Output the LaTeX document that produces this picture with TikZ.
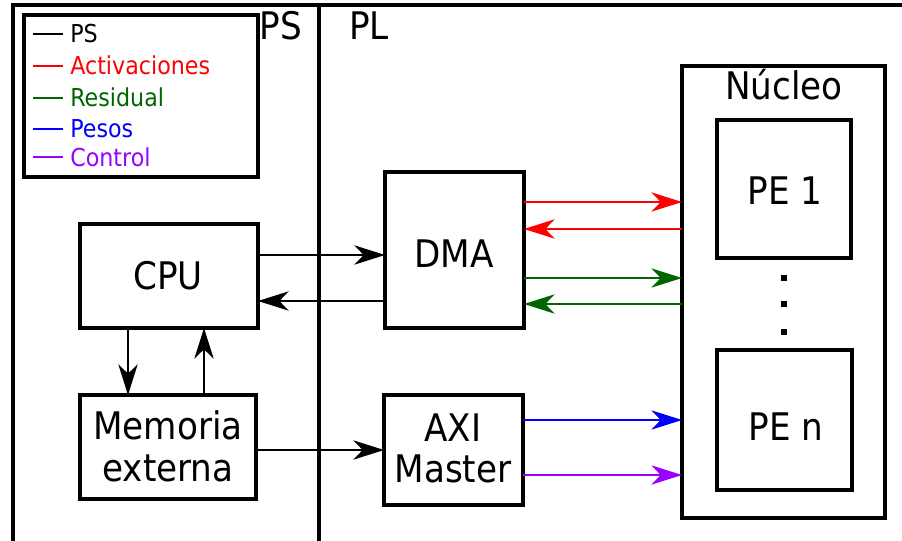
\documentclass[tikz,border=0pt]{standalone}
\usepackage{fontspec}
\setmainfont{DejaVu Sans}[FakeStretch=0.9]
\usetikzlibrary{arrows.meta,fit}
\definecolor{cred}{RGB}{255,0,0}
\definecolor{cgreen}{RGB}{0,102,0}
\definecolor{cblue}{RGB}{0,0,255}
\definecolor{cpurple}{RGB}{153,0,255}
\tikzset{
  thick frame/.style={line width=2.6pt},
  blockbox/.style={draw, line width=2.6pt, inner sep=0pt, outer sep=0pt},
  bigtext/.style={inner sep=0pt, anchor=base, align=center,
    font=\fontsize{28.5}{32}\selectfont},
  legtext/.style={inner sep=0pt, anchor=base west, font=\fontsize{18.5}{22}\selectfont},
  legline/.style={line width=1.1pt},
  conn/.style={line width=1.1pt, -{Stealth[length=23pt,width=14.5pt,inset=7pt]}},
  dotmark/.style={fill=black, rectangle, inner sep=0pt, minimum size=4.6pt},
}
\begin{document}
\begin{tikzpicture}[x=0.75pt,y=-0.75pt]
\useasboundingbox (0,0) rectangle (902,541);
% outer frame and divider
\draw[thick frame] (13,560) -- (13,5) -- (920,5);
\draw[thick frame] (319,5) -- (319,560);
% region labels
\node[bigtext] (pslabel) at (281,40) {PS};
\node[bigtext] (pllabel) at (369,40) {PL};
% legend
\node[blockbox, fit={(24,15) (258,177)}] (legend) {};
\coordinate (l1a) at (33,34); \coordinate (l1b) at (63,34);
\coordinate (l2a) at (33,66); \coordinate (l2b) at (63,66);
\coordinate (l3a) at (33,98); \coordinate (l3b) at (63,98);
\coordinate (l4a) at (33,129); \coordinate (l4b) at (63,129);
\coordinate (l5a) at (33,157); \coordinate (l5b) at (63,157);
\draw[legline, black] (l1a) -- (l1b);
\draw[legline, cred] (l2a) -- (l2b);
\draw[legline, cgreen] (l3a) -- (l3b);
\draw[legline, cblue] (l4a) -- (l4b);
\draw[legline, cpurple] (l5a) -- (l5b);
\node[legtext, text=black] (t1) at (70,43) {PS};
\node[legtext, text=cred] (t2) at (70,75) {Activaciones};
\node[legtext, text=cgreen] (t3) at (70,107) {Residual};
\node[legtext, text=cblue] (t4) at (70,138) {Pesos};
\node[legtext, text=cpurple] (t5) at (70,167) {Control};
% blocks
\node[blockbox, fit={(80,224) (258,328)}] (cpu) {};
\node[bigtext] (cputext) at (168,290) {CPU};
\node[blockbox, fit={(80,395) (256,499)}] (mem) {};
\node[bigtext] (memtext1) at (168,439) {Memoria};
\node[bigtext] (memtext2) at (168,481) {externa};
\node[blockbox, fit={(385,172) (524,328)}] (dma) {};
\node[bigtext] (dmatext) at (454,268) {DMA};
\node[blockbox, fit={(384,395) (523,505)}] (axi) {};
\node[bigtext] (axitext1) at (453,441) {AXI};
\node[bigtext] (axitext2) at (453,482) {Master};
\node[blockbox, fit={(682,66) (885,518)}] (core) {};
\node[bigtext] (coretext) at (784,100) {Núcleo};
\node[blockbox, fit={(717,120) (851,258)}] (pe1) {};
\node[bigtext] (pe1text) at (785,205) {PE 1};
\node[blockbox, fit={(717,350) (852,490)}] (pen) {};
\node[bigtext] (pentext) at (786,440) {PE n};
\node[dotmark] (d1) at (784,278) {};
\node[dotmark] (d2) at (784,304) {};
\node[dotmark] (d3) at (784,332) {};
% helper rows
\coordinate (r255) at (0,255);
\coordinate (r301) at (0,301);
\coordinate (r450) at (0,450);
\coordinate (r202) at (0,202);
\coordinate (r229) at (0,229);
\coordinate (r278) at (0,278);
\coordinate (r304) at (0,304);
\coordinate (r420) at (0,420);
\coordinate (r475) at (0,475);
\coordinate (c128) at (128,0);
\coordinate (c204) at (204,0);
% connectors
\draw[conn] (cpu.east |- r255) -- (dma.west |- r255);
\draw[conn] (dma.west |- r301) -- (cpu.east |- r301);
\draw[conn] (cpu.south -| c128) -- (mem.north -| c128);
\draw[conn] (mem.north -| c204) -- (cpu.south -| c204);
\draw[conn] (mem.east |- r450) -- (axi.west |- r450);
\draw[conn, cred] (dma.east |- r202) -- (core.west |- r202);
\draw[conn, cred] (core.west |- r229) -- (dma.east |- r229);
\draw[conn, cgreen] (dma.east |- r278) -- (core.west |- r278);
\draw[conn, cgreen] (core.west |- r304) -- (dma.east |- r304);
\draw[conn, cblue] (axi.east |- r420) -- (core.west |- r420);
\draw[conn, cpurple] (axi.east |- r475) -- (core.west |- r475);
\end{tikzpicture}
\end{document}
